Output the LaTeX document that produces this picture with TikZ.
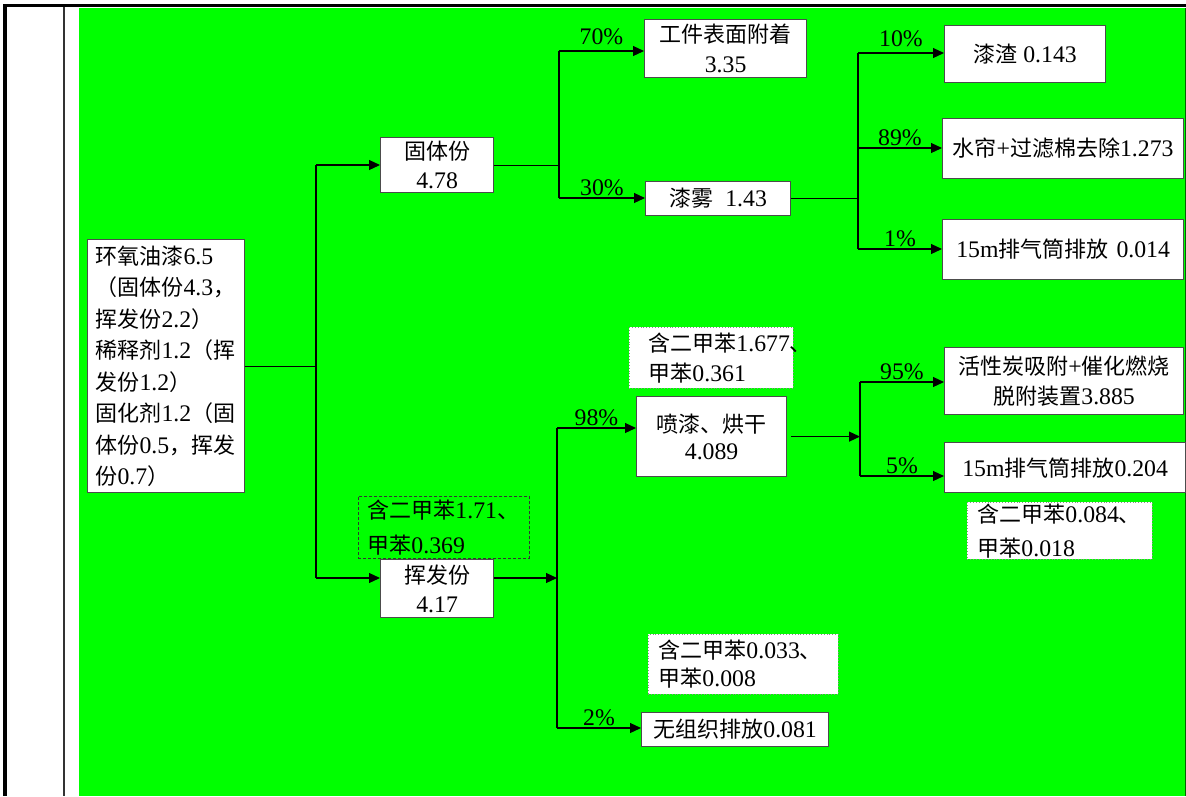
\documentclass[tikz,border=0pt]{standalone}
\usepackage{fontspec}
\setmainfont{Liberation Serif}[Scale=1.08]
\newfontfamily\cjkfont{Noto Sans CJK SC}
\usetikzlibrary{arrows.meta}
\definecolor{bggreen}{HTML}{00FF00}

% han characters and full-width punctuation switch to the CJK font
\XeTeXinterchartokenstate=1
\newXeTeXintercharclass\hanclass
\makeatletter
\count@="3000
\loop\ifnum\count@<"A000 \XeTeXcharclass\count@=\hanclass \advance\count@ by 1 \repeat
\count@="FF00
\loop\ifnum\count@<"FF20 \XeTeXcharclass\count@=\hanclass \advance\count@ by 1 \repeat
\makeatother
\XeTeXinterchartoks 0 \hanclass = {\cjkfont}
\XeTeXinterchartoks 4095 \hanclass = {\cjkfont}
\XeTeXinterchartoks \hanclass 0 = {\rmfamily}
\XeTeXinterchartoks \hanclass 4095 = {\rmfamily}

\begin{document}
\begin{tikzpicture}[x=1pt, y=-1pt,
  box/.style={draw=black!70, fill=white, line width=1.2pt, anchor=north west,
    align=center, inner sep=0pt, font=\fontsize{22}{29}\selectfont},
  note/.style={draw=black!45, fill=white, dotted, line width=0.9pt, anchor=north west,
    align=left, inner ysep=0pt, font=\fontsize{22}{30}\selectfont},
  pct/.style={font=\fontsize{22}{22}\selectfont, inner sep=1.5pt, above},
  line/.style={line width=1.2pt},
  arr/.style={line, -{Triangle[length=11pt,width=10pt]}}
]
  \useasboundingbox (0,0) rectangle (1186,796);

  % page frame
  \fill[white] (0,0) rectangle (1186,796);
  \fill[bggreen] (79,8) rectangle (1185,796);
  \draw[line width=3pt] (3,5.5) -- (1186,5.5);
  \draw[line width=3.5pt] (4.8,4) -- (4.8,796);
  \draw[line width=1.2pt, black!80] (64,7) -- (64,796);
  \draw[line width=1pt, black!60!bggreen] (1185.5,8) -- (1185.5,796);

  % input
  \node[box, align=left, text width=141pt, inner xsep=8pt,
    minimum width=157pt, minimum height=253pt,
    font=\fontsize{22}{31.5}\selectfont] (src) at (87,239)
    {环氧油漆6.5\\（固体份4.3，\\挥发份2.2）\\稀释剂1.2（挥\\发份1.2）\\固化剂1.2（固\\体份0.5，挥发\\份0.7）};

  % solid part
  \node[box, minimum width=113pt, minimum height=55pt] (solid) at (380,137) {固体份\\4.78};
  \node[box, minimum width=162pt, minimum height=58pt,
    font=\fontsize{22}{30}\selectfont] (coat) at (644,19) {工件表面附着\\3.35};
  \node[box, minimum width=145pt, minimum height=34pt] (mist) at (645,181) {漆雾\hspace{12pt}1.43};
  \node[box, minimum width=161pt, minimum height=57pt] (slag) at (944,25) {漆渣 0.143};
  \node[box, minimum width=241pt, minimum height=60pt] (water) at (942,118) {水帘+过滤棉去除1.273};
  \node[box, minimum width=241pt, minimum height=60pt] (stack1) at (942,219) {15m排气筒排放\hspace{8pt}0.014};

  % volatile part
  \node[box, minimum width=113pt, minimum height=58pt] (vol) at (380,559) {挥发份\\4.17};
  \node[box, minimum width=150pt, minimum height=80pt,
    font=\fontsize{22}{27}\selectfont] (spray) at (636,396) {喷漆、烘干\\4.089};
  \node[box, minimum width=239pt, minimum height=67pt,
    font=\fontsize{22}{30}\selectfont] (ads) at (944,347) {活性炭吸附+催化燃烧\\脱附装置3.885};
  \node[box, minimum width=241pt, minimum height=50pt] (stack2) at (944,442) {15m排气筒排放0.204};
  \node[box, minimum width=187pt, minimum height=34pt] (fug) at (641,712) {无组织排放0.081};

  % xylene / toluene notes
  \node[note, draw=black!80, fill=none, dotted=false, dash pattern=on 3pt off 2pt,
    inner xsep=9pt, text width=153pt, minimum height=62pt,
    font=\fontsize{22}{35}\selectfont] (volnote) at (358,496) {含二甲苯1.71、\\甲苯0.369};
  \node[note, inner xsep=19pt, text width=126pt, minimum height=61pt] (spraynote) at (629,327)
    {含二甲苯1.677、\\甲苯0.361};
  \node[note, inner xsep=10pt, text width=165pt, minimum height=57pt,
    font=\fontsize{22}{34}\selectfont] (stacknote) at (967,502) {含二甲苯0.084、\\甲苯0.018};
  \node[note, inner xsep=10pt, text width=170pt, minimum height=60pt,
    font=\fontsize{22}{28}\selectfont] (fugnote) at (648,634) {含二甲苯0.033、\\甲苯0.008};

  % junctions
  \coordinate (ja) at (316,165);  \coordinate (jb) at (316,578);
  \coordinate (jc1) at (559,51);  \coordinate (jc2) at (559,198);
  \coordinate (jd1) at (858,53);  \coordinate (jd2) at (858,148);  \coordinate (jd3) at (858,249);
  \coordinate (je1) at (557,428); \coordinate (je2) at (557,578);  \coordinate (je3) at (557,728);
  \coordinate (jf1) at (860,382); \coordinate (jf2) at (860,476);

  % edges
  \draw[line] (src.east) -- (src.east -| ja);
  \draw[line] (ja) -- (jb);
  \draw[arr] (ja) -- (ja -| solid.west);
  \draw[arr] (jb) -- (jb -| vol.west);

  \draw[line] (solid.east) -- (solid.east -| jc1);
  \draw[line] (jc1) -- (jc2);
  \draw[arr] (jc1) -- node[pct, yshift=4pt] {70\%} (jc1 -| coat.west);
  \draw[arr] (jc2) -- node[pct] {30\%} (jc2 -| mist.west);

  \draw[line] (mist.east) -- (mist.east -| jd1);
  \draw[line] (jd1) -- (jd3);
  \draw[arr] (jd1) -- node[pct, yshift=4pt] {10\%} (jd1 -| slag.west);
  \draw[arr] (jd2) -- node[pct] {89\%} (jd2 -| water.west);
  \draw[arr] (jd3) -- node[pct] {1\%} (jd3 -| stack1.west);

  \draw[arr] (je2 -| vol.east) -- (je2);
  \draw[line] (je1) -- (je3);
  \draw[arr] (je1) -- node[pct] {98\%} (je1 -| spray.west);
  \draw[arr] (je3) -- node[pct] {2\%} (je3 -| fug.west);

  \draw[arr] ([xshift=4pt]spray.east) -- (spray.east -| jf1);
  \draw[line] (jf1) -- (jf2);
  \draw[arr] (jf1) -- node[pct] {95\%} (jf1 -| ads.west);
  \draw[arr] (jf2) -- node[pct] {5\%} (jf2 -| stack2.west);
\end{tikzpicture}
\end{document}
